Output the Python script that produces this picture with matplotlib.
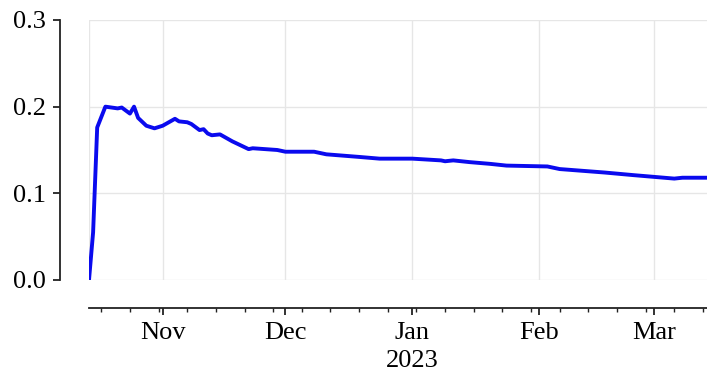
import numpy as np
import pandas as pd
import matplotlib
matplotlib.use("Agg")
import matplotlib.pyplot as plt
import matplotlib.dates as mdates

plt.rcParams['font.family'] = ['Liberation Serif', 'DejaVu Serif']

dates = ["2022-10-14", "2022-10-15", "2022-10-16", "2022-10-18", "2022-10-21",
         "2022-10-22", "2022-10-24", "2022-10-25", "2022-10-26", "2022-10-28",
         "2022-10-30", "2022-11-01", "2022-11-04", "2022-11-05", "2022-11-07",
         "2022-11-08", "2022-11-10", "2022-11-11", "2022-11-12", "2022-11-13",
         "2022-11-15", "2022-11-18", "2022-11-22", "2022-11-23", "2022-11-29",
         "2022-12-01", "2022-12-08", "2022-12-11", "2022-12-19", "2022-12-24",
         "2023-01-01", "2023-01-08", "2023-01-09", "2023-01-11", "2023-01-15",
         "2023-01-20", "2023-01-24", "2023-02-03", "2023-02-06", "2023-02-17",
         "2023-02-24", "2023-03-01", "2023-03-06", "2023-03-08", "2023-03-14"]
rate = [0.000, 0.055, 0.176, 0.200, 0.198,
        0.199, 0.192, 0.200, 0.187, 0.178,
        0.175, 0.178, 0.186, 0.183, 0.182,
        0.180, 0.173, 0.174, 0.169, 0.167,
        0.168, 0.160, 0.151, 0.152, 0.150,
        0.148, 0.148, 0.145, 0.142, 0.140,
        0.140, 0.138, 0.137, 0.138, 0.136,
        0.134, 0.132, 0.131, 0.128, 0.124,
        0.121, 0.119, 0.117, 0.118, 0.118]
yticks = [0.0, 0.1, 0.2, 0.3]

dates = pd.to_datetime(dates)

fig = plt.figure(figsize=(7.07, 3.78), dpi=100)
ax = fig.add_axes([0.1259, 0.2593, 0.8741, 0.6878])

grid_col = "#e6e6e6"
ax.plot(dates, rate, color="#0a0aee", lw=2.8, solid_joinstyle="round",
        solid_capstyle="round", zorder=3)

ax.set_xlim(dates[0], dates[-1])
ax.set_ylim(0, 0.3)
ax.set_yticks(yticks)
ax.set_yticklabels([f"{v:.1f}" for v in yticks])

ax.xaxis.set_major_locator(mdates.MonthLocator())
ax.xaxis.set_minor_locator(mdates.WeekdayLocator(byweekday=mdates.MO))

def month_fmt(x, pos=None):
    d = mdates.num2date(x)
    if d.month == 1:
        return d.strftime("%b\n%Y")
    return d.strftime("%b")

ax.xaxis.set_major_formatter(plt.FuncFormatter(month_fmt))

ax.grid(True, color=grid_col, lw=1.0)
ax.axvline(dates[0], color=grid_col, lw=1.0, zorder=1)

for s in ["top", "right"]:
    ax.spines[s].set_visible(False)
ax.spines["left"].set_position(("outward", 21))
ax.spines["bottom"].set_position(("outward", 20))
for s in ["left", "bottom"]:
    ax.spines[s].set_color("#222222")
    ax.spines[s].set_linewidth(1.3)

ax.tick_params(axis="both", which="major", labelsize=19, length=5, width=1.3,
               color="#222222", pad=5)
ax.tick_params(axis="x", which="minor", length=3, width=1.0, color="#222222")
for lbl in ax.get_xticklabels():
    lbl.set_linespacing(1.4)

fig.savefig("out.png", dpi=100)
